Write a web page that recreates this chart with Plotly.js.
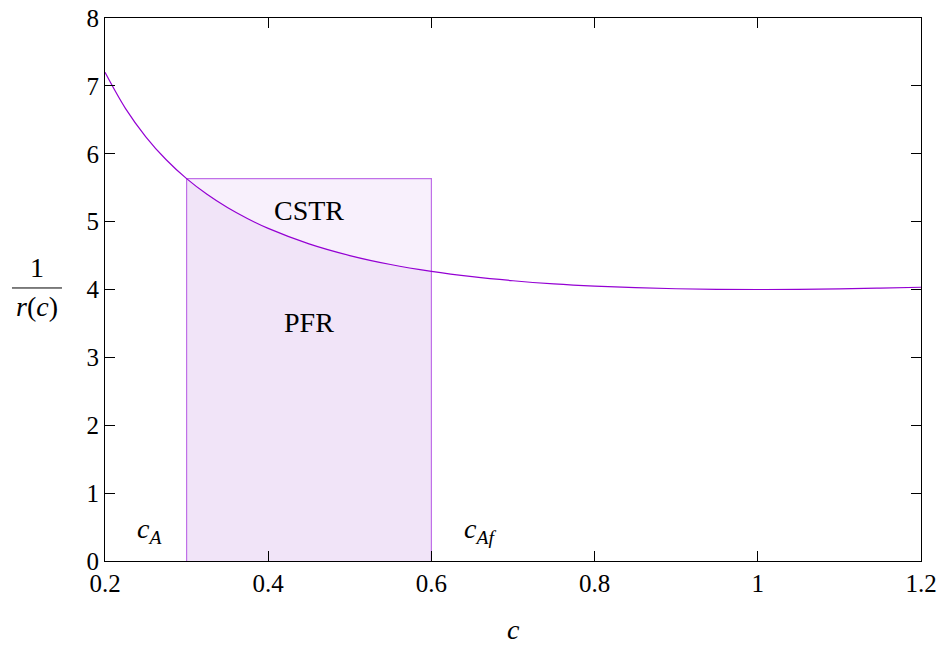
<!DOCTYPE html>
<html>
<head>
<meta charset="utf-8">
<script src="https://cdn.plot.ly/plotly-3.0.1.min.js"></script>
<style>
html,body{margin:0;padding:0;background:#fff;}
#chart{width:943px;height:646px;}
#chart svg text{font-family:"Liberation Serif","DejaVu Serif","Times New Roman",serif !important;}
</style>
</head>
<body>
<div id="chart"></div>
<script>
// Curve 1/r(c)
const cVals = [0.2, 0.225, 0.25, 0.275, 0.3, 0.325, 0.35, 0.375, 0.4, 0.45, 0.5, 0.55, 0.6, 0.65, 0.7, 0.75, 0.8, 0.85, 0.9, 0.95, 1.0, 1.05, 1.1, 1.15, 1.2];
const invR = [7.2, 6.669, 6.25, 5.911, 5.633, 5.402, 5.207, 5.042, 4.9, 4.672, 4.5, 4.368, 4.267, 4.189, 4.129, 4.083, 4.05, 4.027, 4.011, 4.003, 4.0, 4.002, 4.009, 4.02, 4.033];
// Reactor limits
const cA = 0.3;
const cAf = 0.6;
const cstrHeight = 5.633;
const xTicks = [0.2, 0.4, 0.6, 0.8, 1, 1.2];
const xTickText = ['0.2', '0.4', '0.6', '0.8', '1', '1.2'];
const yTicks = [0, 1, 2, 3, 4, 5, 6, 7, 8];

const pfrX = [], pfrY = [];
cVals.forEach((c, i) => { if (c >= cA - 1e-9 && c <= cAf + 1e-9) { pfrX.push(c); pfrY.push(invR[i]); } });

const font = {family: 'Liberation Serif', size: 28, color: '#000'};
const tickFont = {family: 'Liberation Serif', size: 25, color: '#000'};
const purple = '#9400D3';

const traces = [
  {x: [cA, cA, cAf, cAf, cA], y: [0, cstrHeight, cstrHeight, 0, 0], fill: 'toself', fillcolor: '#F8F0FC', mode: 'lines', line: {width: 0}, hoverinfo: 'skip'},
  {x: [cA].concat(pfrX, [cAf, cA]), y: [0].concat(pfrY, [0, 0]), fill: 'toself', fillcolor: '#F1E4F8', mode: 'lines', line: {width: 0}, hoverinfo: 'skip'},
  {x: [cA, cA, cAf, cAf], y: [0, cstrHeight, cstrHeight, 0], mode: 'lines', line: {color: '#C070E8', width: 1.2}, hoverinfo: 'skip'},
  {x: cVals, y: invR, mode: 'lines', line: {color: purple, width: 1.2, shape: 'spline'}}
];

const layout = {
  width: 943, height: 646,
  margin: {l: 105, r: 22, t: 18, b: 85},
  showlegend: false,
  paper_bgcolor: '#fff', plot_bgcolor: '#fff',
  font: font,
  xaxis: {range: [0.2, 1.2], tickvals: xTicks, ticktext: xTickText, ticks: 'inside', ticklen: 10, tickcolor: '#000',
          showline: true, linecolor: '#000', linewidth: 1, mirror: 'ticks', showgrid: false, zeroline: false, tickfont: tickFont},
  yaxis: {range: [0, 8], tickvals: yTicks, ticks: 'inside', ticklen: 10, tickcolor: '#000',
          showline: true, linecolor: '#000', linewidth: 1, mirror: 'ticks', showgrid: false, zeroline: false, tickfont: tickFont},
  annotations: [
    {x: 0.45, y: 5.16, xref: 'x', yref: 'y', text: 'CSTR', showarrow: false, font: font, xanchor: 'center', yanchor: 'middle'},
    {x: 0.45, y: 3.51, xref: 'x', yref: 'y', text: 'PFR', showarrow: false, font: font, xanchor: 'center', yanchor: 'middle'},
    {x: 0.255, y: 0.45, xref: 'x', yref: 'y', text: '<i>c</i><sub><i>A</i></sub>', showarrow: false, font: font, xanchor: 'center', yanchor: 'middle'},
    {x: 0.66, y: 0.45, xref: 'x', yref: 'y', text: '<i>c</i><sub><i>Af</i></sub>', showarrow: false, font: font, xanchor: 'center', yanchor: 'middle'},
    {x: 0.5, y: -0.127, xref: 'paper', yref: 'paper', text: '<i>c</i>', showarrow: false, font: font, xanchor: 'center', yanchor: 'middle'},
    {x: -0.0833, y: 0.5396, xref: 'paper', yref: 'paper', text: '1', showarrow: false, font: font, xanchor: 'center', yanchor: 'middle'},
    {x: -0.0833, y: 0.4678, xref: 'paper', yref: 'paper', text: '<i>r</i>(<i>c</i>)', showarrow: false, font: font, xanchor: 'center', yanchor: 'middle'}
  ],
  shapes: [
    {type: 'line', xref: 'paper', yref: 'paper', x0: -0.114, x1: -0.0527, y0: 0.5028, y1: 0.5028, line: {color: '#000', width: 1}}
  ]
};

Plotly.newPlot('chart', traces, layout, {displayModeBar: false, staticPlot: true});
</script>
</body>
</html>
